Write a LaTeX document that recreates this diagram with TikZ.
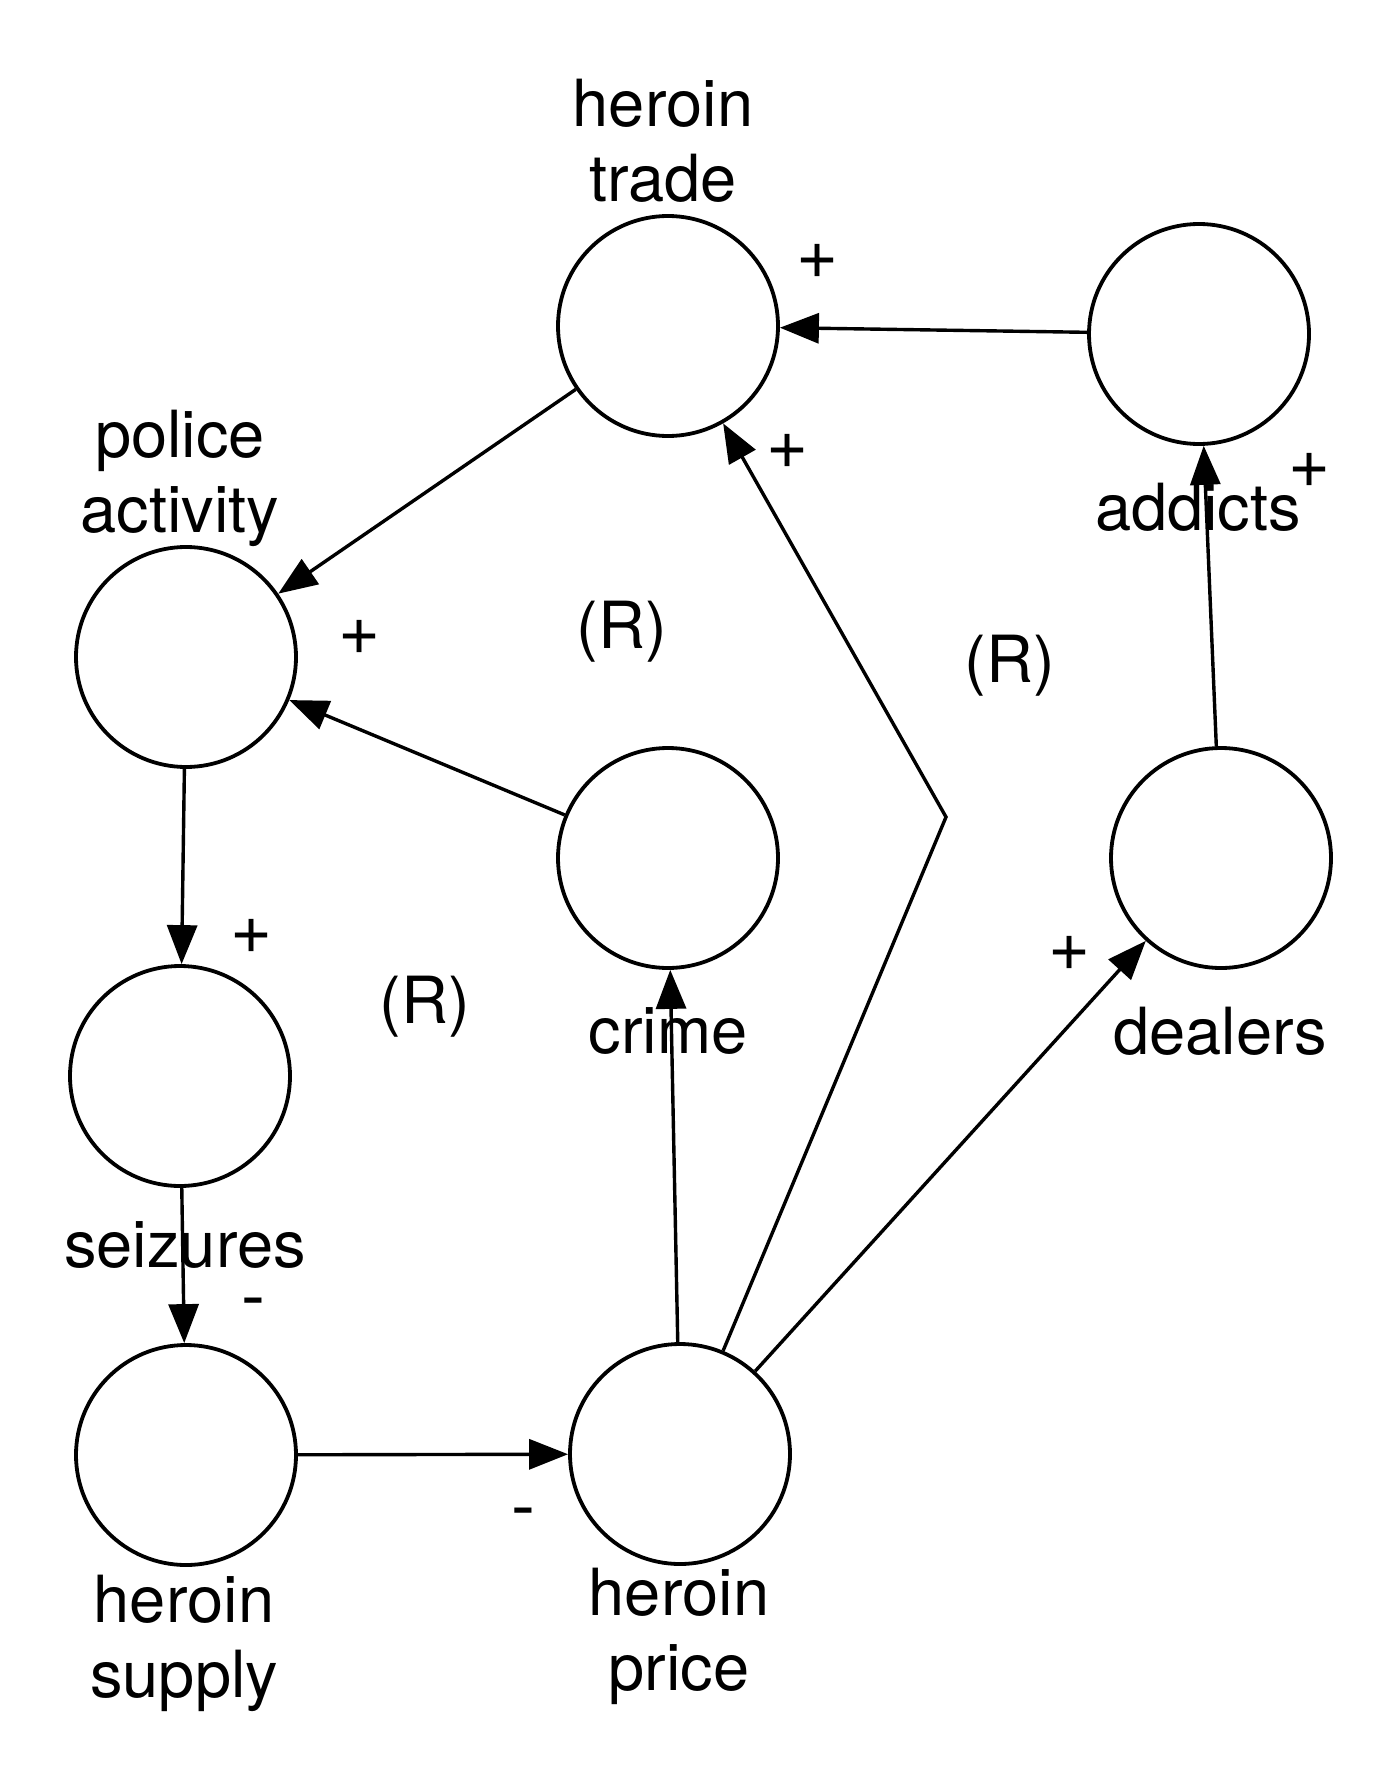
\documentclass[tikz,border=0pt]{standalone}
\usepackage{fontspec}
\setmainfont{TeX Gyre Heros}
\usetikzlibrary{arrows.meta}
\begin{document}
\begin{tikzpicture}[x=1pt,y=-1pt,
  var/.style={circle,draw,line width=3.8pt,minimum size=220pt,inner sep=0pt},
  lbl/.style={font=\fontsize{65}{75}\selectfont,align=center,inner sep=0pt,anchor=base},
  sgn/.style={font=\fontsize{72}{80}\selectfont,inner sep=0pt,anchor=base},
  link/.style={line width=3.4pt,-{Triangle[length=39pt,width=30pt]}},
]
\fill[white] (0,0) rectangle (1395,1779);
\useasboundingbox (0,0) rectangle (1395,1779);
% variables
\node[var] (trade) at (668,326) {};
\node[var] (addicts) at (1199,334) {};
\node[var] (police) at (186,657) {};
\node[var] (crime) at (668,858) {};
\node[var] (dealers) at (1221,858) {};
\node[var] (seizures) at (180,1076) {};
\node[var] (supply) at (186,1455) {};
\node[var] (price) at (680,1454) {};
\coordinate (bend) at (946,817);
% labels (base = baseline of last line)
\node[lbl] (tradeT) at (663,202) {heroin\\trade};
\node[lbl] (policeT) at (180,532) {police\\activity};
\node[lbl] (addictsT) at (1198,530) {addicts};
\node[lbl] (crimeT) at (668,1053) {crime};
\node[lbl] (dealersT) at (1220,1054) {dealers};
\node[lbl] (seizuresT) at (185,1267) {seizures};
\node[lbl] (supplyT) at (184,1697) {heroin\\supply};
\node[lbl] (priceT) at (679,1690) {heroin\\price};
% loop labels
\node[lbl] (r1) at (622,648) {(R)};
\node[lbl] (r2) at (1010,682) {(R)};
\node[lbl] (r3) at (425,1023) {(R)};
% connectors
\draw[link] (addicts) -- (trade);
\draw[link] (trade) -- (police);
\draw[link] (crime) -- (police);
\draw[link] (police) -- (seizures);
\draw[link] (seizures) -- (supply);
\draw[link] (supply) -- (price);
\draw[link] (price) -- (crime);
\draw[link] (price) -- (bend) -- (trade);
\draw[link] (price) -- (dealers);
\draw[link] (dealers) -- (addicts);
% polarity signs
\node[sgn] (s1) at (818,278) {+};
\node[sgn] (s2) at (788,468) {+};
\node[sgn] (s3) at (1310,487) {+};
\node[sgn] (s4) at (360,654) {+};
\node[sgn] (s5) at (252,953) {+};
\node[sgn] (s6) at (1070,970) {+};
\node[sgn] (s7) at (253,1320) {-};
\node[sgn] (s8) at (523,1530) {-};
\end{tikzpicture}
\end{document}
